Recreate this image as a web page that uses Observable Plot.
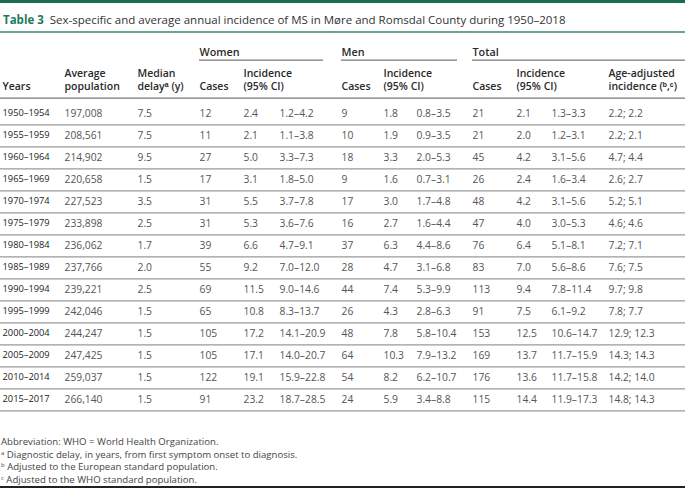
<!DOCTYPE html>
<html>
<head>
<meta charset="utf-8">
<script src="https://cdn.jsdelivr.net/npm/d3@7"></script>
<script src="https://cdn.jsdelivr.net/npm/@observablehq/plot@0.6"></script>
<style>
  html, body { margin: 0; padding: 0; background: #fff; }
  body { width: 685px; height: 490px; position: relative; overflow: hidden; font-family: "Open Sans", sans-serif; }
  #bar { position: absolute; left: 0; top: 0; width: 685px; height: 3px; background: #1b6b51; }
  #title { position: absolute; left: 3px; top: 12px; font-size: 11.5px; line-height: 15px; color: #333; white-space: nowrap; }
  #title b { color: #1d7a5c; font-weight: 700; }
  #rule { position: absolute; left: 0; top: 31px; width: 685px; height: 2px; background: #6aa39a; }
  #chart { position: absolute; left: 0; top: 33px; }
  #notes { position: absolute; left: 1px; top: 436px; font-size: 9.6px; line-height: 12.5px; color: #444; }
  #notes sup { font-size: 6px; vertical-align: 3px; line-height: 0; }
  #bottom { position: absolute; left: 0; top: 486px; width: 685px; height: 2px; background: #222; }
</style>
</head>
<body>
<div id="bar"></div>
<div id="title"><b>Table 3</b>&nbsp; Sex-specific and average annual incidence of MS in Møre and Romsdal County during 1950–2018</div>
<div id="rule"></div>
<div id="chart"></div>
<div id="notes">
  <div>Abbreviation: WHO = World Health Organization.</div>
  <div><sup>a</sup> Diagnostic delay, in years, from first symptom onset to diagnosis.</div>
  <div><sup>b</sup> Adjusted to the European standard population.</div>
  <div><sup>c</sup> Adjusted to the WHO standard population.</div>
</div>
<div id="bottom"></div>
<script>
// ---- data ----
const years = ["1950–1954","1955–1959","1960–1964","1965–1969","1970–1974","1975–1979","1980–1984","1985–1989","1990–1994","1995–1999","2000–2004","2005–2009","2010–2014","2015–2017"];
const avgPopulation = [197008,208561,214902,220658,227523,233898,236062,237766,239221,242046,244247,247425,259037,266140];
const medianDelay = [7.5,7.5,9.5,1.5,3.5,2.5,1.7,2.0,2.5,1.5,1.5,1.5,1.5,1.5];
const womenCases = [12,11,27,17,31,31,39,55,69,65,105,105,122,91];
const womenInc = [2.4,2.1,5.0,3.1,5.5,5.3,6.6,9.2,11.5,10.8,17.2,17.1,19.1,23.2];
const womenLo = [1.2,1.1,3.3,1.8,3.7,3.6,4.7,7.0,9.0,8.3,14.1,14.0,15.9,18.7];
const womenHi = [4.2,3.8,7.3,5.0,7.8,7.6,9.1,12.0,14.6,13.7,20.9,20.7,22.8,28.5];
const menCases = [9,10,18,9,17,16,37,28,44,26,48,64,54,24];
const menInc = [1.8,1.9,3.3,1.6,3.0,2.7,6.3,4.7,7.4,4.3,7.8,10.3,8.2,5.9];
const menLo = [0.8,0.9,2.0,0.7,1.7,1.6,4.4,3.1,5.3,2.8,5.8,7.9,6.2,3.4];
const menHi = [3.5,3.5,5.3,3.1,4.8,4.4,8.6,6.8,9.9,6.3,10.4,13.2,10.7,8.8];
const totalCases = [21,21,45,26,48,47,76,83,113,91,153,169,176,115];
const totalInc = [2.1,2.0,4.2,2.4,4.2,4.0,6.4,7.0,9.4,7.5,12.5,13.7,13.6,14.4];
const totalLo = [1.3,1.2,3.1,1.6,3.1,3.0,5.1,5.6,7.8,6.1,10.6,11.7,11.7,11.9];
const totalHi = [3.3,3.1,5.6,3.4,5.6,5.3,8.1,8.6,11.4,9.2,14.7,15.9,15.8,17.3];
const ageAdjEuropean = [2.2,2.2,4.7,2.6,5.2,4.6,7.2,7.6,9.7,7.8,12.9,14.3,14.2,14.8];
const ageAdjWHO = [2.2,2.1,4.4,2.7,5.1,4.6,7.1,7.5,9.8,7.7,12.3,14.3,14.0,14.3];

const groupLabels = ["Women", "Men", "Total"];
const headerLabels = ["\nYears", "Average\npopulation", "Median\ndelayᵃ (y)", "\nCases", "Incidence\n(95% CI)", "\nCases", "Incidence\n(95% CI)", "\nCases", "Incidence\n(95% CI)", "Age-adjusted\nincidence (ᵇ,ᶜ)"];

// ---- layout (column offsets in px) ----
const W = 685;
const colX = {years: 2, pop: 64, delay: 137, wC: 199, wI: 243, wCI: 279, mC: 341, mI: 383, mCI: 416, tC: 472, tI: 516, tCI: 551, adj: 608};
const headerCols = ["years","pop","delay","wC","wI","mC","mI","tC","tI","adj"];
const groupSpans = [["wC", 323], ["mC", 457], ["tC", 685]];
const rowTop = 64, rowH = 22.77;

// ---- build table cells ----
const f1 = d3.format(".1f");
const fPop = d3.format(",");
const cells = [];
years.forEach((y, i) => {
  const row = {
    years: y,
    pop: fPop(avgPopulation[i]),
    delay: f1(medianDelay[i]),
    wC: String(womenCases[i]), wI: f1(womenInc[i]), wCI: `${f1(womenLo[i])}–${f1(womenHi[i])}`,
    mC: String(menCases[i]), mI: f1(menInc[i]), mCI: `${f1(menLo[i])}–${f1(menHi[i])}`,
    tC: String(totalCases[i]), tI: f1(totalInc[i]), tCI: `${f1(totalLo[i])}–${f1(totalHi[i])}`,
    adj: `${f1(ageAdjEuropean[i])}; ${f1(ageAdjWHO[i])}`
  };
  for (const k of Object.keys(colX)) cells.push({col: k, year: y, text: row[k]});
});
const headers = headerCols.map((c, i) => ({col: c, text: headerLabels[i]}));
const groups = groupSpans.map(([c, x2], i) => ({col: c, x2, text: groupLabels[i]}));

const first = years[0];
const firstCenter = rowTop + rowH / 2;
const svgH = 387;

const chart = Plot.plot({
  width: W,
  height: svgH,
  margin: 0,
  style: {fontFamily: "Open Sans, sans-serif", background: "transparent", overflow: "visible"},
  x: {domain: [0, W], range: [0, W], axis: null},
  y: {type: "band", domain: years, range: [rowTop, rowTop + rowH * years.length], padding: 0, axis: null},
  marks: [
    Plot.ruleY(years, {y: d => d, dy: rowH / 2, x1: 0, x2: W, stroke: "#9a9a9a", strokeWidth: 1.3}),
    Plot.ruleY([first], {y: d => d, dy: 60 - firstCenter, x1: 0, x2: W, stroke: "#777", strokeWidth: 1.3}),
    Plot.ruleY(groups, {y: () => first, dy: 22 - firstCenter, x1: d => colX[d.col], x2: "x2", stroke: "#555", strokeWidth: 1}),
    Plot.text(groups, {x: d => colX[d.col], y: () => first, dy: 14 - firstCenter, text: "text", textAnchor: "start", fontSize: 10.8, fontWeight: 600, fill: "#2a2a2a"}),
    Plot.text(headers, {x: d => colX[d.col], y: () => first, dy: 41 - firstCenter, text: "text", textAnchor: "start", lineAnchor: "middle", lineHeight: 1.25, fontSize: 10.5, fontWeight: 600, fill: "#2a2a2a"}),
    Plot.text(cells, {x: d => colX[d.col], y: "year", text: "text", textAnchor: "start",
      fontSize: d => d.col === "years" ? 9.3 : 10.3,
      fontWeight: d => d.col === "years" ? 700 : 400,
      fill: d => d.col === "years" ? "#222" : "#555"})
  ]
});
document.getElementById("chart").appendChild(chart);
</script>
</body>
</html>
